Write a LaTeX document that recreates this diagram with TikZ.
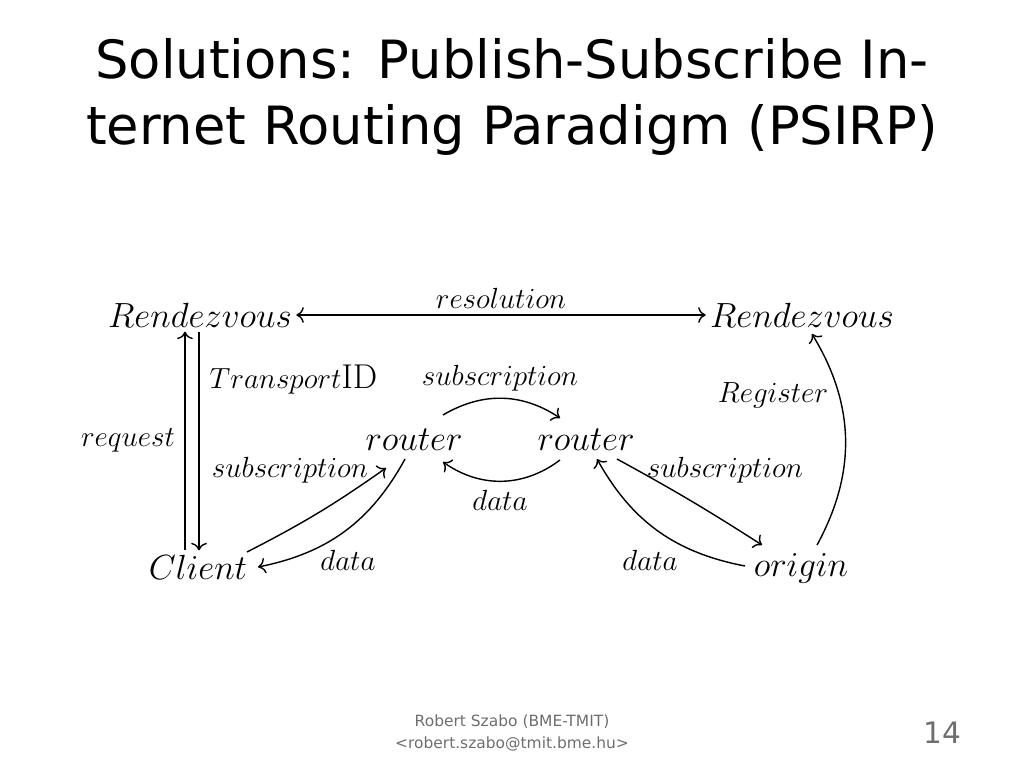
\documentclass[tikz,border=0pt]{standalone}
\usepackage{fontspec}
\usepackage{tikz}
\usetikzlibrary{calc,arrows.meta}
\newfontfamily\slidefont{DejaVu Sans}
\definecolor{footgray}{RGB}{110,110,110}
\tikzset{
  ent/.style={font=\fontsize{24.5}{29}\selectfont,inner sep=3pt},
  lbl/.style={font=\fontsize{20}{24}\selectfont,inner sep=1pt},
  conn/.style={line width=1pt,-{To[scale=1.4]}}
}

\begin{document}
\begin{tikzpicture}[x=0.25mm,y=-0.25mm]
			\useasboundingbox (0,0) rectangle (1024,768);
			% title and footer
			\node[font=\slidefont\fontsize{37.5}{47}\selectfont,align=center] (title) at (512,97)
				{Solutions: Publish-Subscribe In-\\ternet Routing Paradigm (PSIRP)};
			\node[font=\slidefont\fontsize{11}{15.5}\selectfont,text=footgray,align=center] (foot) at (512,733)
				{Robert Szabo (BME-TMIT)\\<robert.szabo@tmit.bme.hu>};
			\node[font=\slidefont\fontsize{21}{25}\selectfont,text=footgray] (page) at (942,733) {14};
			% entities
			\node[ent] (rL) at (200,315) {$Rendezvous$};
			\node[ent] (rR) at (802,315) {$Rendezvous$};
			\node[ent] (rtL) at (414,440) {$router$};
			\node[ent] (rtR) at (586,440) {$router$};
			\node[ent] (cl) at (198,567) {$Client$};
			\node[ent] (org) at (801,568) {$origin$};
			% connectors
			\draw[conn,{To[scale=1.4]}-{To[scale=1.4]}] (rL) -- (rR) node[lbl,midway,above=3pt] (lres) {$resolution$};
			\draw[conn] ($(cl.north)+(-13,0)$) -- ($(rL.south)+(-15,0)$);
			\draw[conn] ($(rL.south)+(-1,0)$) -- ($(cl.north)+(1,0)$);
			\draw[conn] ($(rtL)+(29,-25)$) to[bend left=32] ($(rtR)+(-26,-22)$);
			\draw[conn] ($(rtR)+(-26,20)$) to[bend left=36] ($(rtL)+(29,22)$);
			\draw[conn] ($(cl)+(49,-15)$) to[bend right=4] ($(rtL)+(-28,28)$);
			\draw[conn] ($(rtL)+(-9,19)$) to[bend left=25] ($(cl)+(60,0)$);
			\draw[conn] ($(rtR)+(31,19)$) to[bend left=2] ($(org)+(-39,-23)$);
			\draw[conn] ($(org)+(-56,-2)$) to[bend left=25] ($(rtR)+(11,19)$);
			\draw[conn] ($(org)+(16,-23)$) to[bend right=30] ($(rR)+(10,19)$);
			% labels
			\node[lbl] (lreq) at (128,440) {$request$};
			\node[lbl,anchor=west] (ltid) at (208,380) {$Transport$\fontsize{24.5}{29}\selectfont ID};
			\node[lbl] (lsubT) at (500,378) {$subscription$};
			\node[lbl] (ldatM) at (500,500) {$data$};
			\node[lbl] (lsubL) at (290,470) {$subscription$};
			\node[lbl] (ldatL) at (348,560) {$data$};
			\node[lbl] (lsubR) at (725,470) {$subscription$};
			\node[lbl] (ldatR) at (650,560) {$data$};
			\node[lbl] (lreg) at (773,395) {$Register$};
\end{tikzpicture}
\end{document}
